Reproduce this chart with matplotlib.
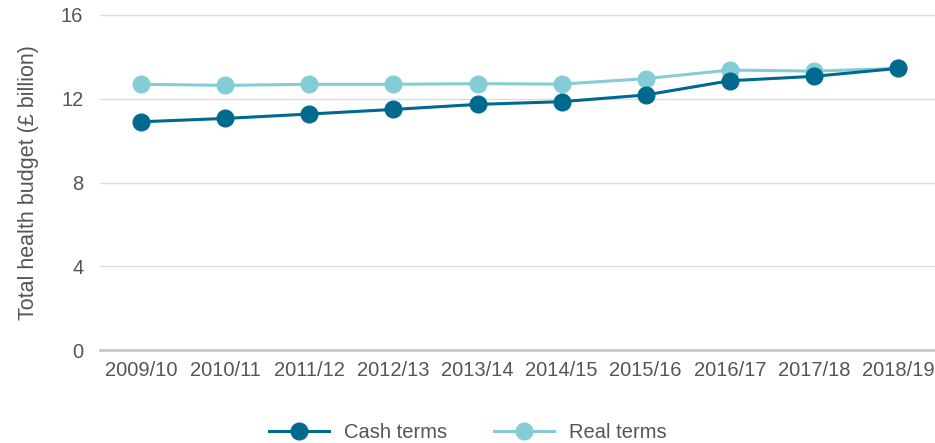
import matplotlib
matplotlib.use("Agg")
import matplotlib.pyplot as plt
from matplotlib.lines import Line2D

years = ["2009/10", "2010/11", "2011/12", "2012/13", "2013/14",
         "2014/15", "2015/16", "2016/17", "2017/18", "2018/19"]
cash_terms = [10.90, 11.06, 11.27, 11.49, 11.73, 11.86, 12.18, 12.86, 13.07, 13.45]
real_terms = [12.69, 12.64, 12.69, 12.69, 12.72, 12.70, 12.96, 13.37, 13.32, 13.45]
y_ticks = [0, 4, 8, 12, 16]

CASH = "#006a8e"
REAL = "#85cdd6"
TXT = "#555555"

plt.rcParams['font.family'] = ['Liberation Sans', 'DejaVu Sans']

fig = plt.figure(figsize=(9.35, 4.43), dpi=100)
ax = fig.add_axes([100/935, 1-350/443, 1-100/935, 335/443])

x = list(range(len(years)))
ax.plot(x, real_terms, color=REAL, lw=2.2, marker='o', ms=12, zorder=3)
ax.plot(x, cash_terms, color=CASH, lw=2.2, marker='o', ms=12, zorder=4)

ax.set_xlim(-0.49, 9.44)
ax.set_ylim(0, 16)
ax.set_yticks(y_ticks)
ax.set_xticks(x)
ax.set_xticklabels(years)
for t in y_ticks:
    if t == 0:
        ax.axhline(t, color="#c8c8c8", lw=2, zorder=1, clip_on=False)
    else:
        ax.axhline(t, color="#dddddd", lw=1, zorder=1, clip_on=False)
for s in ax.spines.values():
    s.set_visible(False)
ax.tick_params(axis='both', length=0, labelsize=14.5, colors=TXT)
ax.tick_params(axis='y', pad=12)
ax.tick_params(axis='x', pad=8)
ax.set_ylabel("Total health budget (£ billion)", fontsize=15.5, color=TXT, labelpad=16)

handles = [Line2D([], [], color=CASH, lw=2.2, marker='o', ms=12),
           Line2D([], [], color=REAL, lw=2.2, marker='o', ms=12)]
fig.legend(handles, ["Cash terms", "Real terms"], loc='center',
           bbox_to_anchor=(468/935, 1-433/443), ncol=2, frameon=False,
           fontsize=14.5, labelcolor=TXT, handlelength=3.0, columnspacing=2.3,
           handletextpad=0.75)

fig.savefig("out.png", dpi=100)
